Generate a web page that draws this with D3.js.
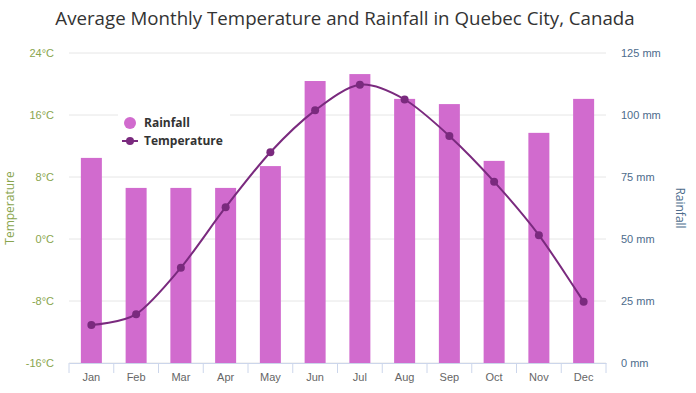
<!DOCTYPE html>
<html lang="en">
<head>
<meta charset="UTF-8">
<title>Quebec City climate</title>
<script src="https://d3js.org/d3.v7.min.js"></script>
<style>
    body { margin: 0; background: #fff; }
    svg { display: block; font-family: 'Open Sans', 'DejaVu Sans', sans-serif; }
</style>
</head>
<body>
<div id="chart"></div>
<script>
    const months = ["Jan", "Feb", "Mar", "Apr", "May", "Jun", "Jul", "Aug", "Sep", "Oct", "Nov", "Dec"];
    const rainfall = [82.7, 70.6, 70.6, 70.6, 79.4, 113.7, 116.5, 106.5, 104.4, 81.5, 92.8, 106.5];
    const temperature = [-11.1, -9.7, -3.7, 4.1, 11.2, 16.6, 19.9, 18.0, 13.3, 7.4, 0.5, -8.1];
    const tempTicks = [-16, -8, 0, 8, 16, 24];
    const rainTicks = [0, 25, 50, 75, 100, 125];

    const width = 696, height = 393;
    const plotL = 69, plotR = 606, plotT = 53, plotB = 363;

    const svg = d3.select("#chart").append("svg")
        .attr("width", width)
        .attr("height", height);

    const x = d3.scaleBand().domain(months).range([plotL, plotR]);
    const yT = d3.scaleLinear().domain([-16, 24]).range([plotB, plotT]);
    const yR = d3.scaleLinear().domain([0, 125]).range([plotB, plotT]);

    // title
    svg.append("text")
        .attr("x", 345).attr("y", 25)
        .attr("text-anchor", "middle")
        .attr("font-size", 18.7)
        .attr("fill", "#333")
        .text("Average Monthly Temperature and Rainfall in Quebec City, Canada");

    // gridlines
    svg.append("g").selectAll("line")
        .data(tempTicks)
        .enter().append("line")
        .attr("x1", plotL).attr("x2", plotR)
        .attr("y1", d => yT(d)).attr("y2", d => yT(d))
        .attr("stroke", "#e6e6e6");

    // left axis
    const axL = svg.append("g")
        .attr("transform", `translate(${plotL},0)`)
        .call(d3.axisLeft(yT).tickValues(tempTicks).tickSize(0).tickPadding(15).tickFormat(d => d + "°C"));
    axL.select(".domain").remove();
    axL.selectAll("text").attr("fill", "#89A54E").attr("font-size", 11).attr("font-family", null);

    // right axis
    const axR = svg.append("g")
        .attr("transform", `translate(${plotR},0)`)
        .call(d3.axisRight(yR).tickValues(rainTicks).tickSize(0).tickPadding(15).tickFormat(d => d + " mm"));
    axR.select(".domain").remove();
    axR.selectAll("text").attr("fill", "#4d6c8c").attr("font-size", 11).attr("font-family", null);

    // axis titles
    svg.append("text")
        .attr("transform", `translate(14,${(plotT + plotB) / 2}) rotate(-90)`)
        .attr("text-anchor", "middle")
        .attr("font-size", 12)
        .attr("fill", "#89A54E")
        .text("Temperature");
    svg.append("text")
        .attr("transform", `translate(676,${(plotT + plotB) / 2}) rotate(90)`)
        .attr("text-anchor", "middle")
        .attr("font-size", 12)
        .attr("fill", "#4d6c8c")
        .text("Rainfall");

    // bars
    const barW = 21;
    svg.append("g").selectAll("rect")
        .data(rainfall)
        .enter().append("rect")
        .attr("x", (d, i) => x(months[i]) + x.bandwidth() / 2 - barW / 2)
        .attr("width", barW)
        .attr("y", d => yR(d))
        .attr("height", d => plotB - yR(d))
        .attr("fill", "#D16BCE");

    // x axis
    const axB = svg.append("g")
        .attr("transform", `translate(0,${plotB})`)
        .call(d3.axisBottom(x).tickSize(0).tickPadding(10));
    axB.select(".domain").attr("stroke", "#ccd6eb");
    axB.selectAll("text").attr("fill", "#666").attr("font-size", 11).attr("font-family", null);
    const bounds = months.map(m => x(m)).concat([plotR]);
    axB.append("g").selectAll("line")
        .data(bounds)
        .enter().append("line")
        .attr("x1", d => d).attr("x2", d => d)
        .attr("y1", 0).attr("y2", 10)
        .attr("stroke", "#ccd6eb");

    // temperature line
    const line = d3.line()
        .x((d, i) => x(months[i]) + x.bandwidth() / 2)
        .y(d => yT(d))
        .curve(d3.curveCardinal.tension(0.1));
    svg.append("path")
        .datum(temperature)
        .attr("d", line)
        .attr("fill", "none")
        .attr("stroke", "#7A2A7E")
        .attr("stroke-width", 2);
    svg.append("g").selectAll("circle")
        .data(temperature)
        .enter().append("circle")
        .attr("cx", (d, i) => x(months[i]) + x.bandwidth() / 2)
        .attr("cy", d => yT(d))
        .attr("r", 4)
        .attr("fill", "#7A2A7E");

    // legend
    const lg = svg.append("g").attr("transform", "translate(118,110)");
    lg.append("rect").attr("width", 112).attr("height", 44).attr("fill", "#fff");
    lg.append("circle").attr("cx", 12).attr("cy", 13).attr("r", 6).attr("fill", "#D16BCE");
    lg.append("text").attr("x", 26).attr("y", 17).attr("font-size", 12).attr("font-weight", "bold")
        .attr("fill", "#333").text("Rainfall");
    lg.append("line").attr("x1", 4).attr("x2", 20).attr("y1", 31).attr("y2", 31)
        .attr("stroke", "#7A2A7E").attr("stroke-width", 2);
    lg.append("circle").attr("cx", 12).attr("cy", 31).attr("r", 4).attr("fill", "#7A2A7E");
    lg.append("text").attr("x", 26).attr("y", 35).attr("font-size", 12).attr("font-weight", "bold")
        .attr("fill", "#333").text("Temperature");
</script>
</body>
</html>
